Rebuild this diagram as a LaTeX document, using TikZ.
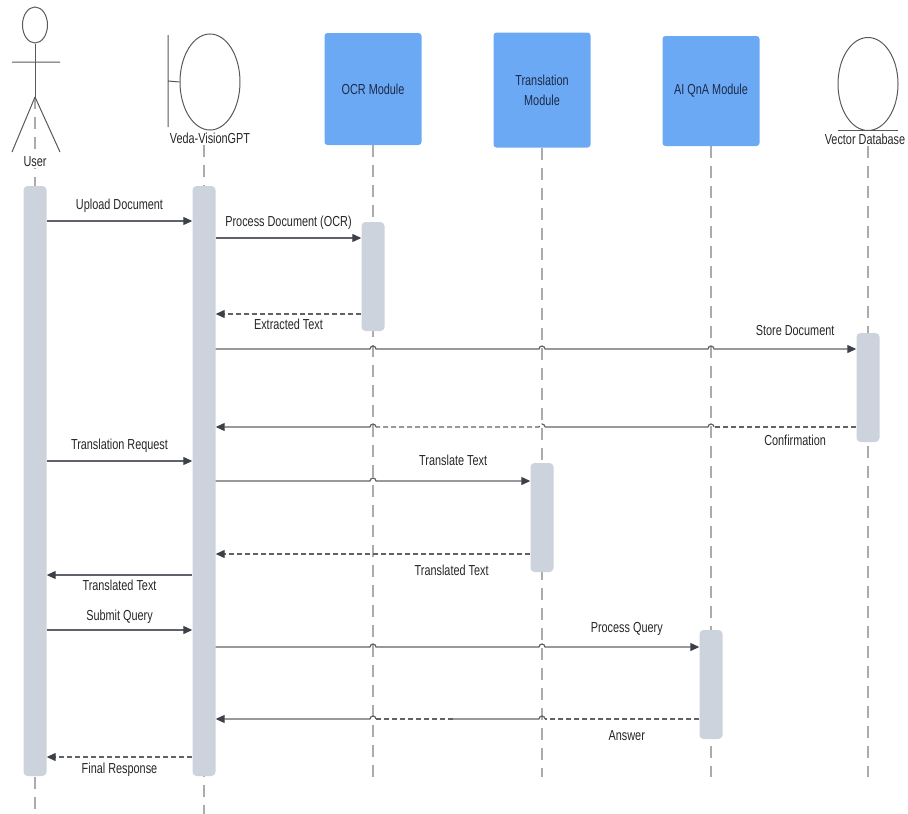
\documentclass[tikz,border=0pt]{standalone}
\usepackage{fontspec}
\setmainfont[FakeStretch=0.75]{Liberation Sans}
\usetikzlibrary{positioning, arrows.meta, shapes.geometric, backgrounds}
\definecolor{boxblue}{RGB}{108,169,245}
\definecolor{actgray}{RGB}{205,211,220}
\definecolor{linegray}{RGB}{95,99,105}
\definecolor{tipgray}{RGB}{60,64,72}
\definecolor{lifegray}{RGB}{172,172,172}
\definecolor{navy}{RGB}{27,42,73}
\tikzset{every node/.append style={font=\fontsize{14.5}{20}\selectfont, text=black!85},
    module/.style={fill=boxblue, rounded corners=3pt, minimum width=97pt, minimum height=112pt, align=center, text=navy},
    act/.style={fill=actgray, rounded corners=4pt, minimum width=23pt, inner sep=0pt},
    icon/.style={draw=black!65, line width=1pt},
    life/.style={draw=lifegray, line width=1.2pt, dash pattern=on 12pt off 8pt},
    msg/.style={draw=linegray, line width=1.2pt},
    call/.style={msg, -{Triangle[length=9pt, width=8pt, color=tipgray]}},
    ret/.style={msg, dash pattern=on 5pt off 3pt}}
\newcommand{\hopr}[2]{-- ([xshift=-3pt]#1.center |- 0,#2) arc[start angle=180, end angle=0, radius=3pt]}

\begin{document}
\begin{tikzpicture}[x=1pt, y=-1pt]
    \useasboundingbox (0,0) rectangle (908,814);

    % participants
    \node[icon, ellipse, minimum width=25pt, minimum height=36pt, inner sep=0pt] (head) at (35,25) {};
    \draw[icon] (head.south) -- (35,97) coordinate (hip);
    \draw[icon] (12,62) -- (60,62) (hip) -- (12,152) (hip) -- (60,152);
    \node[fill=white, inner sep=1pt] (user) at (35,162) {User};

    \node[icon, ellipse, minimum width=60pt, minimum height=96pt, inner sep=0pt] (veda) at (210,82) {};
    \draw[icon] (168,35) -- (168,127) (168,81) -- (veda.west);
    \node[inner sep=1pt] (vedal) at (210,138) {Veda-VisionGPT};

    \node[module] (ocr) at (373,89) {OCR Module};
    \node[module, minimum height=115pt] (trans) at (542,90) {Translation\\Module};
    \node[module, minimum height=110pt] (qna) at (711,91) {AI QnA Module};

    \node[icon, ellipse, minimum width=60pt, minimum height=93pt, inner sep=0pt] (vdb) at (868,84) {};
    \draw[icon] (838,130) -- (898,130);
    \node[inner sep=1pt] (vdbl) at (865,139) {Vector Database};

    % activations
    \node[act, minimum height=590pt] (ua) at (35,481) {};
    \node[act, minimum height=590pt] (va) at (204,481) {};
    \node[act, minimum height=109pt] (oa) at (373,276.5) {};
    \node[act, minimum height=109pt] (ba) at (868,387.5) {};
    \node[act, minimum height=109pt] (ta) at (542,517.5) {};
    \node[act, minimum height=109pt] (qa) at (711,684.5) {};

    % lifelines
    \begin{scope}[on background layer]
        \draw[life] (hip) -- (hip |- 0,814);
        \draw[life] (va.center |- vedal.south) -- (va.center |- 0,814);
        \draw[life] (ocr.south) -- (ocr.south |- 0,777);
        \draw[life] (trans.south) -- (trans.south |- 0,777);
        \draw[life] (qna.south) -- (qna.south |- 0,777);
        \draw[life] (ba.center |- vdbl.south) -- (ba.center |- 0,777);
    \end{scope}

    % messages
    \draw[call] (ua.east |- 0,221) -- node[above=5pt] {Upload Document} (va.west |- 0,221);
    \draw[call] (va.east |- 0,238) -- node[above=5pt] {Process Document (OCR)} (oa.west |- 0,238);
    \draw[call, ret] (oa.west |- 0,314) -- node[below=1pt] {Extracted Text} (va.east |- 0,314);
    \draw[call] (va.east |- 0,349) \hopr{ocr}{349} \hopr{trans}{349} \hopr{qna}{349}
        -- node[pos=0.57, above=9pt] {Store Document} (ba.west |- 0,349);

    \draw[ret] (ba.west |- 0,427) -- node[pos=0.43, below=4pt] {Confirmation} ([xshift=3pt]qna.center |- 0,427);
    \draw[msg] ([xshift=3pt]qna.center |- 0,427) arc[start angle=0, end angle=180, radius=3pt] -- ([xshift=3pt]trans.center |- 0,427);
    \draw[ret] ([xshift=3pt]trans.center |- 0,427) arc[start angle=0, end angle=180, radius=3pt] -- ([xshift=3pt]ocr.center |- 0,427);
    \draw[call] ([xshift=3pt]ocr.center |- 0,427) arc[start angle=0, end angle=180, radius=3pt] -- (va.east |- 0,427);

    \draw[call] (ua.east |- 0,461) -- node[above=5pt] {Translation Request} (va.west |- 0,461);
    \draw[call] (va.east |- 0,481) \hopr{ocr}{481} -- node[pos=0.5, above=11pt] {Translate Text} (ta.west |- 0,481);
    \draw[call, ret] (ta.west |- 0,554) -- node[pos=0.25, below=7pt] {Translated Text} (va.east |- 0,554);
    \draw[call] (va.west |- 0,575) -- node[below=1pt] {Translated Text} (ua.east |- 0,575);

    \draw[call] (ua.east |- 0,630) -- node[above=3pt] {Submit Query} (va.west |- 0,630);
    \draw[call] (va.east |- 0,647) \hopr{ocr}{647} \hopr{trans}{647}
        -- node[pos=0.53, above=8pt] {Process Query} (qa.west |- 0,647);

    \coordinate (brk) at (453,719);
    \draw[ret] (qa.west |- 0,719) -- node[pos=0.47, below=8pt] {Answer} ([xshift=3pt]trans.center |- 0,719);
    \draw[msg] ([xshift=3pt]trans.center |- 0,719) arc[start angle=0, end angle=180, radius=3pt] -- (brk);
    \draw[ret] (brk) -- ([xshift=3pt]ocr.center |- 0,719);
    \draw[call] ([xshift=3pt]ocr.center |- 0,719) arc[start angle=0, end angle=180, radius=3pt] -- (va.east |- 0,719);

    \draw[call, ret] (va.west |- 0,757) -- node[below=2pt] {Final Response} (ua.east |- 0,757);
\end{tikzpicture}
\end{document}
